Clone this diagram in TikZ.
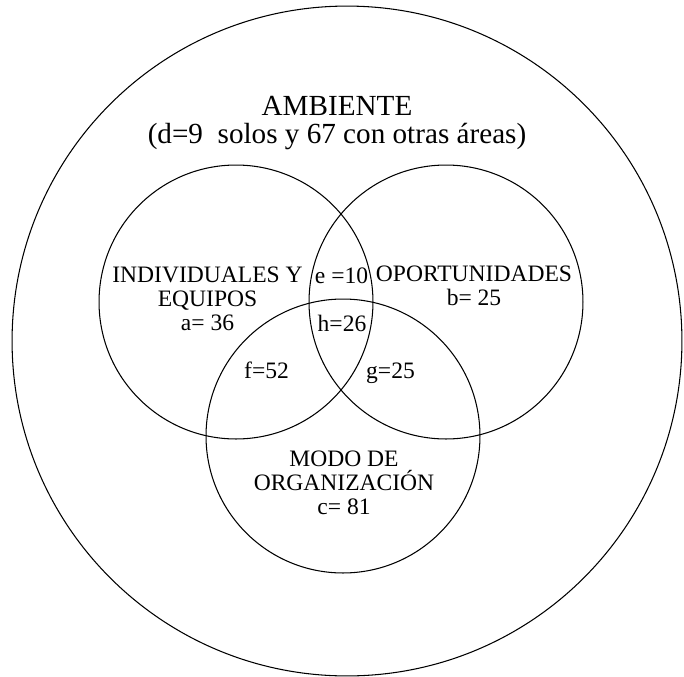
\documentclass[tikz,border=0pt]{standalone}
\usepackage{fontspec}
\setmainfont{Liberation Serif}
\begin{document}
\begin{tikzpicture}[x=0.02cm, y=-0.02cm,
    set/.style={draw=black, line width=0.6pt},
    area/.style={inner sep=0pt, anchor=base, align=center,
                 font=\fontsize{13.4}{13.4}\selectfont},
    title/.style={inner sep=0pt, anchor=base, align=center,
                  font=\fontsize{16.6}{15.9}\selectfont}]

  \useasboundingbox (0,0) rectangle (684,677);

  % ---- the whole environment and the three sets inside it
  \coordinate (U) at (347,341);
  \coordinate (A) at (236,302);
  \coordinate (B) at (446,302);
  \coordinate (C) at (343,436);
  \draw[set] (U) circle[radius=6.7cm];
  \draw[set] (A) circle[radius=2.74cm];
  \draw[set] (B) circle[radius=2.74cm];
  \draw[set] (C) circle[radius=2.74cm];

  % ---- labels of the areas (base = baseline of the last line)
  \node[title] (amb) at (337,143) {AMBIENTE\\(d=9\ \ solos y 67 con otras áreas)};
  \node[area] (ind) at (207.5,330) {INDIVIDUALES Y\\EQUIPOS\\a= 36};
  \node[area] (opo) at (474,305) {OPORTUNIDADES\\b= 25};
  \node[area] (mod) at (344,514) {MODO DE\\ORGANIZACIÓN\\c= 81};
  \node[area] (e) at (341.5,283) {e =10};
  \node[area] (h) at (342,331) {h=26};
  \node[area] (f) at (266.5,378) {f=52};
  \node[area] (g) at (390.5,378) {g=25};
\end{tikzpicture}
\end{document}
